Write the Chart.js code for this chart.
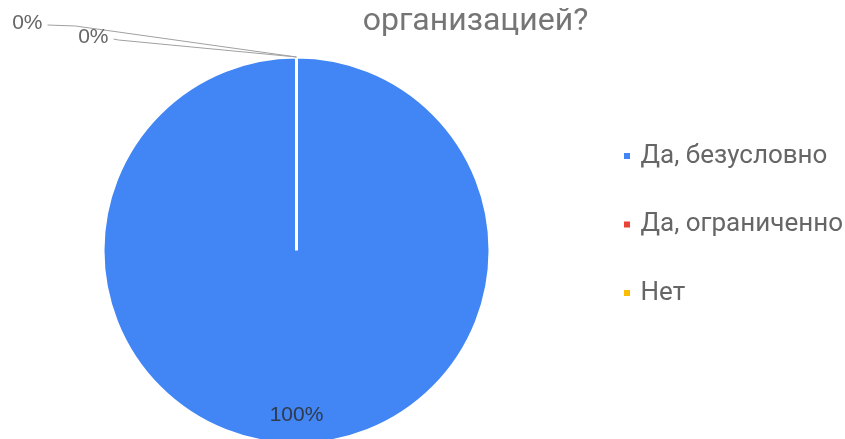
<!DOCTYPE html>
<html>
<head>
<meta charset="utf-8">
<script src="https://cdn.jsdelivr.net/npm/chart.js@4/dist/chart.umd.min.js"></script>
<style>
  html, body { margin: 0; padding: 0; background: #fff; overflow: hidden; }
  /* the reference is cropped at the bottom, so the canvas is a bit taller than the window */
  #wrap { position: relative; width: 845px; height: 449px; }
</style>
</head>
<body>
<div id="wrap"><canvas id="answers-chart"></canvas></div>
<script>
const categories = ['Да, безусловно', 'Да, ограниченно', 'Нет'];
const answers = [100, 0, 0];
const sliceColors = ['#4285F4', '#EA4335', '#FBBC04'];
const chartTitle = 'организацией?';

const answersCanvas = document.getElementById('answers-chart');

// percent labels: inside for big slices, callouts with leader lines for empty ones
const sliceLabels = {
    id: 'sliceLabels',
    afterDatasetsDraw(chart, args, opts) {
        const ctx = chart.ctx;
        const arcs = chart.getDatasetMeta(0).data;
        const total = answers.reduce((a, b) => a + b, 0);
        let k = 0;
        ctx.save();
        ctx.font = opts.font;
        arcs.forEach((arc, i) => {
            const text = Math.round(answers[i] / total * 100) + '%';
            const {x, y, startAngle, endAngle, outerRadius} = arc;
            if (endAngle - startAngle > 0.5) {
                const mid = (startAngle + endAngle) / 2;
                ctx.fillStyle = opts.insideColor;
                ctx.textAlign = 'center';
                ctx.textBaseline = 'middle';
                ctx.fillText(text, x + Math.cos(mid) * outerRadius * 0.85, y + Math.sin(mid) * outerRadius * 0.85);
            } else {
                const c = opts.callouts[k++];
                const ax = x + Math.cos(startAngle) * outerRadius;
                const ay = y + Math.sin(startAngle) * outerRadius;
                const sx = ax + c[0];
                const sy = ay + c[1];
                ctx.strokeStyle = opts.lineColor;
                ctx.lineWidth = 1;
                ctx.beginPath();
                ctx.moveTo(sx, sy);
                ctx.lineTo(sx + c[2], sy + 1);
                ctx.lineTo(ax, ay);
                ctx.stroke();
                ctx.fillStyle = opts.outsideColor;
                ctx.textAlign = 'right';
                ctx.textBaseline = 'alphabetic';
                ctx.fillText(text, sx - 5, sy + 4);
            }
        });
        ctx.restore();
    }
};

// title is centred further right than the canvas middle
const titleShift = {
    id: 'titleShift',
    afterLayout(chart, args, opts) {
        chart.titleBlock.left += opts.left;
    }
};

let answersChart = new Chart(answersCanvas, {
    type: 'pie',
    data: {
        labels: categories,
        datasets: [{
            data: answers,
            backgroundColor: sliceColors,
            borderColor: '#ffffff',
            borderWidth: 3,
            hoverOffset: 0
        }]
    },
    options: {
        responsive: true,
        maintainAspectRatio: false,
        animation: false,
        radius: 193.5,
        layout: {
            padding: {left: 9, right: 0, top: 0, bottom: 0}
        },
        plugins: {
            title: {
                display: true,
                text: chartTitle,
                color: '#757575',
                font: {family: 'Roboto', size: 32, weight: 'normal'},
                padding: {top: 3, bottom: 10.6}
            },
            legend: {
                display: true,
                position: 'right',
                maxWidth: 261,
                labels: {
                    usePointStyle: true,
                    pointStyle: 'rect',
                    boxWidth: 1,
                    boxHeight: 9,
                    padding: 42.5,
                    color: '#666666',
                    font: {family: 'Roboto', size: 26}
                }
            },
            tooltip: {enabled: false},
            sliceLabels: {
                font: '21px "Liberation Sans", Arial, sans-serif',
                insideColor: 'rgba(45, 45, 45, 0.85)',
                outsideColor: '#666666',
                lineColor: '#a0a0a0',
                callouts: [[-249, -32, 28], [-183, -18, 5]]
            },
            titleShift: {left: 97}
        }
    },
    plugins: [sliceLabels, titleShift]
});
</script>
</body>
</html>
